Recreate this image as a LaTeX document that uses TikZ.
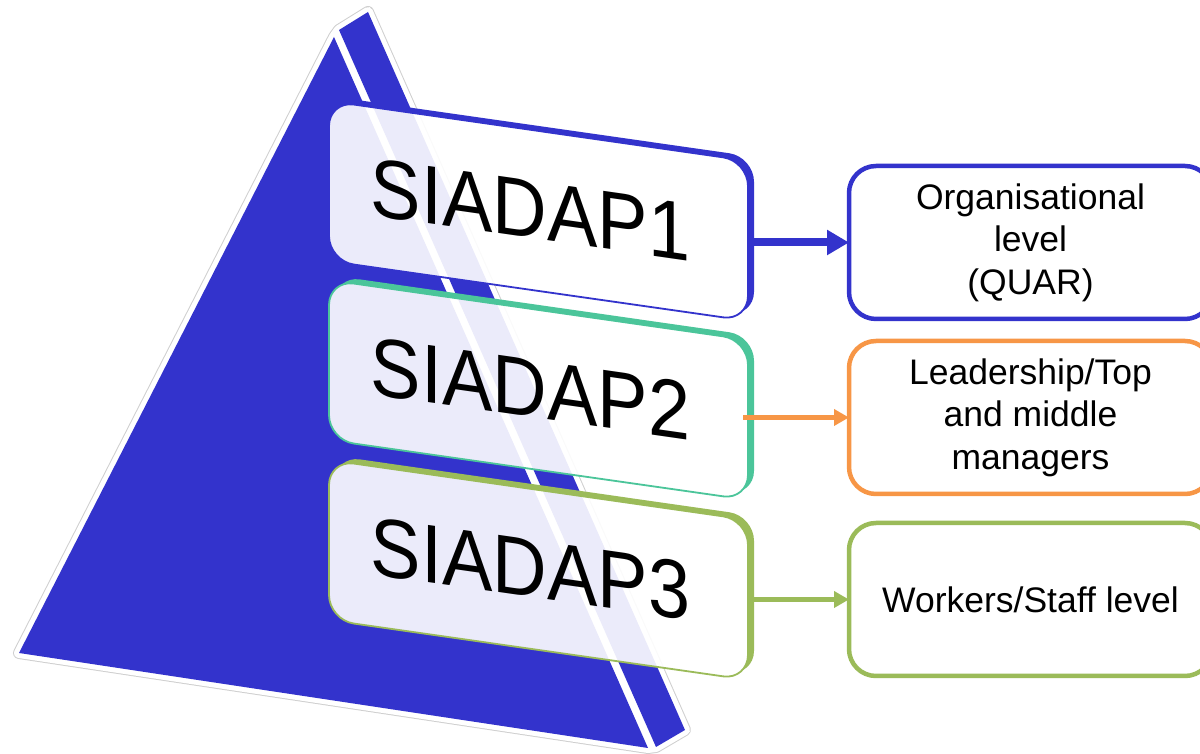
\documentclass[tikz,border=0pt]{standalone}
\usepackage{fontspec}
\setmainfont{Liberation Sans}
\usepackage{graphicx}
\usetikzlibrary{arrows.meta}

\definecolor{pyrblue}{HTML}{3333CC}
\definecolor{tealc}{HTML}{4BC59A}
\definecolor{greenc}{HTML}{9BBB59}
\definecolor{orangec}{HTML}{F79646}
\definecolor{haloline}{HTML}{CFCFCF}

% slanted panel: translucent body, thin outline, heavier rim on top and right
\newcommand{\levelpanel}[4]{%
  \begin{scope}[shift={(#1)}, yslant=-0.143]
    \begin{scope}[even odd rule, rounded corners=25pt]
      \clip (-60,60) rectangle (480,-220)
        (0,-80) -- (0,0) -- (419,0) -- (419,-160) -- (0,-160) -- cycle;
      \fill[#2]
        (6,-75) -- (6,5) -- (425,5) -- (425,-155) -- (6,-155) -- cycle;
    \end{scope}
    \path[fill=white, fill opacity=0.9, draw=#2, line width=1.8pt, rounded corners=25pt]
      (0,-80) -- (0,0) -- (419,0) -- (419,-160) -- (0,-160) -- cycle;
    \node[levelname] (#3) at (209.5,-80) {\scalebox{0.91}[1]{#4}\rule{16pt}{0pt}};
  \end{scope}}

\begin{document}
\begin{tikzpicture}[x=1pt,y=1pt,
  levelname/.style={minimum width=419pt, minimum height=160pt, inner sep=0pt,
    outer sep=0pt, transform shape, font=\fontsize{83}{83}\selectfont},
  infobox/.style={draw=#1, line width=4.5pt, fill=white, rounded corners=27pt,
    minimum width=363pt, minimum height=153pt, inner sep=0pt, outer sep=0pt,
    align=center, font=\fontsize{35.5}{42.5}\selectfont},
  link/.style={draw=#1, color=#1}
]
\clip (0,0) rectangle (1200,754);
\useasboundingbox (0,0) rectangle (1200,754);

% pyramid: white halo with a faint rim, then the two faces
\draw[haloline, line width=12pt, line join=round]
  (19,101) -- (334,717) -- (339,724) -- (368,742) -- (685,24) -- (656,7) -- (648,6) -- cycle;
\draw[white, fill=white, line width=10pt, line join=round]
  (19,101) -- (334,717) -- (339,724) -- (368,742) -- (685,24) -- (656,7) -- (648,6) -- cycle;
\fill[pyrblue] (19,101) -- (334,717) -- (648,6) -- cycle;
\fill[pyrblue] (339,724) -- (368,742) -- (685,24) -- (656,7) -- cycle;

% slanted level panels (top-left corner, colour, name, label)
\levelpanel{329,653}{pyrblue}{s1}{SIADAP1}
\levelpanel{329,474}{tealc}{s2}{SIADAP2}
\levelpanel{329,294}{greenc}{s3}{SIADAP3}

% description boxes
\node[infobox=pyrblue] (qa) at (1030.5,511.5) {Organisational\\level\\(QUAR)};
\node[infobox=orangec] (qb) at (1030.5,336.5) {Leadership/Top\\and middle\\managers};
\node[infobox=greenc]  (qc) at (1030.5,154.5) {Workers/Staff level};

% connectors
\draw[link=pyrblue, line width=8pt, -{Triangle[length=22pt,width=24pt]}]
  (qa.west -| s1.east) -- (qa.west);
\draw[link=orangec, line width=5.5pt, -{Triangle[length=15pt,width=16pt]}]
  ([xshift=-5pt]qb.west -| s2.east) -- (qb.west);
\draw[link=greenc, line width=5.5pt, -{Triangle[length=15pt,width=16pt]}]
  (qc.west -| s3.east) -- (qc.west);
\end{tikzpicture}
\end{document}
